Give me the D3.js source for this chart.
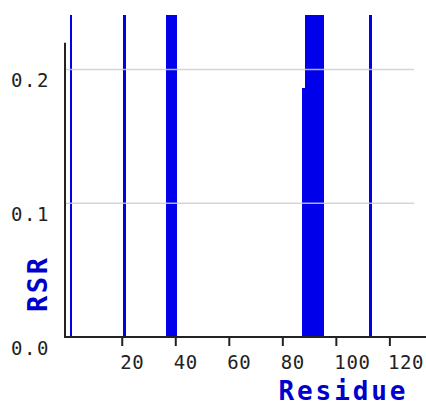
<!DOCTYPE html>
<html>
<head>
<meta charset="utf-8">
<script src="https://cdn.jsdelivr.net/npm/d3@7"></script>
<style>
  html, body { margin: 0; padding: 0; background: #fff; }
  svg { display: block; }
</style>
</head>
<body>
<svg width="426" height="406"></svg>
<script>
// residues that have an RSR bar, and their values (bars above the top are clipped)
const residues = [1, 21, 37, 38, 39, 40, 88, 89, 90, 91, 92, 93, 94, 95, 113]
const rsrValues = [0.3, 0.3, 0.3, 0.3, 0.3, 0.3, 0.186, 0.3, 0.3, 0.3, 0.3, 0.3, 0.3, 0.3, 0.3]

const xTicks = [20, 40, 60, 80, 100, 120]
const yTicks = [0.0, 0.1, 0.2]
const gridValues = [0.1, 0.2]
const yAxisTop = 0.22

const svg = d3.select('svg')
const width = +svg.attr('width')
const height = +svg.attr('height')

const data = residues.map((r, i) => ({ residue: r, rsr: rsrValues[i] }))

// plot box in page pixels
const plot = { left: 65, right: 414, top: 16, bottom: 337 }

const xScale = d3.scaleLinear()
    .domain([-1.2, 129.2])
    .range([plot.left, plot.right])

const yScale = d3.scaleLinear()
    .domain([0, 0.24])
    .range([plot.bottom, plot.top])

svg.append('clipPath').attr('id', 'plotClip')
  .append('rect')
    .attr('x', plot.left)
    .attr('y', 15)
    .attr('width', plot.right - plot.left)
    .attr('height', plot.bottom - 15)

// bars, one residue wide each; crisp edges so neighbours join without seams
svg.append('g')
    .attr('clip-path', 'url(#plotClip)')
    .attr('shape-rendering', 'crispEdges')
  .selectAll('rect').data(data)
  .enter().append('rect')
    .attr('x', d => xScale(d.residue - 0.5))
    .attr('width', d => xScale(d.residue + 0.5) - xScale(d.residue - 0.5))
    .attr('y', d => yScale(d.rsr))
    .attr('height', d => yScale(0) - yScale(d.rsr))
    .attr('fill', '#0000ea')

// grid lines lie on top of the bars
svg.append('g').selectAll('line').data(gridValues)
  .enter().append('line')
    .attr('x1', plot.left)
    .attr('x2', plot.right)
    .attr('y1', d => yScale(d))
    .attr('y2', d => yScale(d))
    .attr('stroke', '#cfcfcf')
    .attr('stroke-opacity', 0.85)
    .attr('stroke-width', 1.5)

// left axis line only goes up to 0.22
svg.append('line')
    .attr('x1', plot.left)
    .attr('x2', plot.left)
    .attr('y1', yScale(0))
    .attr('y2', yScale(yAxisTop))
    .attr('stroke', '#222')
    .attr('stroke-width', 2)

// x axis
const xAxis = svg.append('g')
    .attr('transform', `translate(0,${yScale(0)})`)
    .call(d3.axisBottom(xScale)
        .tickValues(xTicks)
        .tickSize(9)
        .tickSizeOuter(0))
xAxis.select('.domain')
    .attr('d', `M${plot.left - 1},0H${width}`)
    .attr('stroke', '#222')
    .attr('stroke-width', 2)
xAxis.selectAll('.tick line')
    .attr('stroke', '#222')
    .attr('stroke-width', 2)
xAxis.selectAll('.tick text')
    .attr('text-anchor', 'start')
    .attr('x', -2)
    .attr('y', 32)
    .attr('dy', null)
    .attr('fill', '#222')
    .style('font-family', '"DejaVu Sans Mono", monospace')
    .style('font-size', '19px')
    .style('letter-spacing', '0.6px')

// y tick labels, no ticks and no domain
const yAxis = svg.append('g')
    .attr('transform', `translate(${plot.left},0)`)
    .call(d3.axisLeft(yScale)
        .tickValues(yTicks)
        .tickSize(0)
        .tickFormat(d3.format('.1f')))
yAxis.select('.domain').remove()
yAxis.selectAll('.tick text')
    .attr('x', -15)
    .attr('y', 17)
    .attr('dy', null)
    .attr('fill', '#222')
    .style('font-family', '"DejaVu Sans Mono", monospace')
    .style('font-size', '19px')
    .style('letter-spacing', '1.6px')

// axis titles
svg.append('text')
    .attr('x', 342)
    .attr('y', 400)
    .attr('text-anchor', 'middle')
    .attr('fill', '#0000cc')
    .style('font-family', '"DejaVu Sans Mono", monospace')
    .style('font-weight', 'bold')
    .style('font-size', '26px')
    .attr('textLength', 127)
    .text('Residue')

svg.append('text')
    .attr('transform', 'translate(47,285) rotate(-90)')
    .attr('text-anchor', 'middle')
    .attr('fill', '#0000cc')
    .style('font-family', '"DejaVu Sans Mono", monospace')
    .style('font-weight', 'bold')
    .style('font-size', '27px')
    .attr('textLength', 54)
    .text('RSR')
</script>
</body>
</html>
